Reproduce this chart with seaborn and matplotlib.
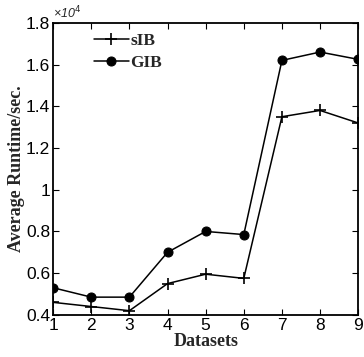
import matplotlib
matplotlib.use("Agg")
import matplotlib.pyplot as plt
import seaborn as sns
import pandas as pd
from matplotlib.ticker import FuncFormatter

datasets = [1, 2, 3, 4, 5, 6, 7, 8, 9]
sib = [4600, 4400, 4200, 5500, 5950, 5750, 13500, 13800, 13200]
gib = [5300, 4850, 4850, 7000, 8000, 7850, 16200, 16600, 16250]
yticks = [4000, 6000, 8000, 10000, 12000, 14000, 16000, 18000]

sns.set_theme(style="ticks")
plt.rcParams['font.family'] = ['Liberation Sans', 'DejaVu Sans']

df = pd.DataFrame({"Datasets": datasets * 2,
                   "Runtime": sib + gib,
                   "Method": ["sIB"] * 9 + ["GIB"] * 9})

fig = plt.figure(figsize=(3.64, 3.57), dpi=100)
ax = fig.add_axes([0.146, 0.118, 0.838, 0.818])

sns.lineplot(data=df[df.Method == "sIB"], x="Datasets", y="Runtime", ax=ax,
             color="black", marker="+", markersize=9, markeredgewidth=1.2,
             markeredgecolor="black", linewidth=1.1, label="sIB")
sns.lineplot(data=df[df.Method == "GIB"], x="Datasets", y="Runtime", ax=ax,
             color="black", marker="o", markersize=6.5, markeredgecolor="black",
             linewidth=1.1, label="GIB")

ax.set_xlim(1, 9)
ax.set_ylim(4000, 18000)
ax.set_xticks(datasets)
ax.set_yticks(yticks)
ax.yaxis.set_major_formatter(FuncFormatter(lambda v, p: "%g" % (v / 1e4)))
ax.tick_params(direction="in", length=4, width=0.8, labelsize=12.5, colors="black",
               top=True, right=True, pad=2)
for s in ax.spines.values():
    s.set_color("black")
    s.set_linewidth(1.3)

ax.set_xlabel("Datasets", fontfamily="Liberation Serif", fontweight="bold",
              fontsize=13, labelpad=0)
ax.set_ylabel("Average Runtime/sec.", fontfamily="Liberation Serif",
              fontweight="bold", fontsize=13, labelpad=1)
ax.text(0.0, 1.005, "×10$^4$", transform=ax.transAxes, fontsize=9,
        style="italic", ha="left", va="bottom")

leg = ax.legend(loc="upper left", frameon=False, prop={"family": "Liberation Serif",
                "weight": "bold", "size": 12.5}, handlelength=2.0,
                bbox_to_anchor=(0.1, 1.0), borderaxespad=0.2, labelspacing=0.3,
                handletextpad=0.1)

fig.savefig("out.png", dpi=100)
